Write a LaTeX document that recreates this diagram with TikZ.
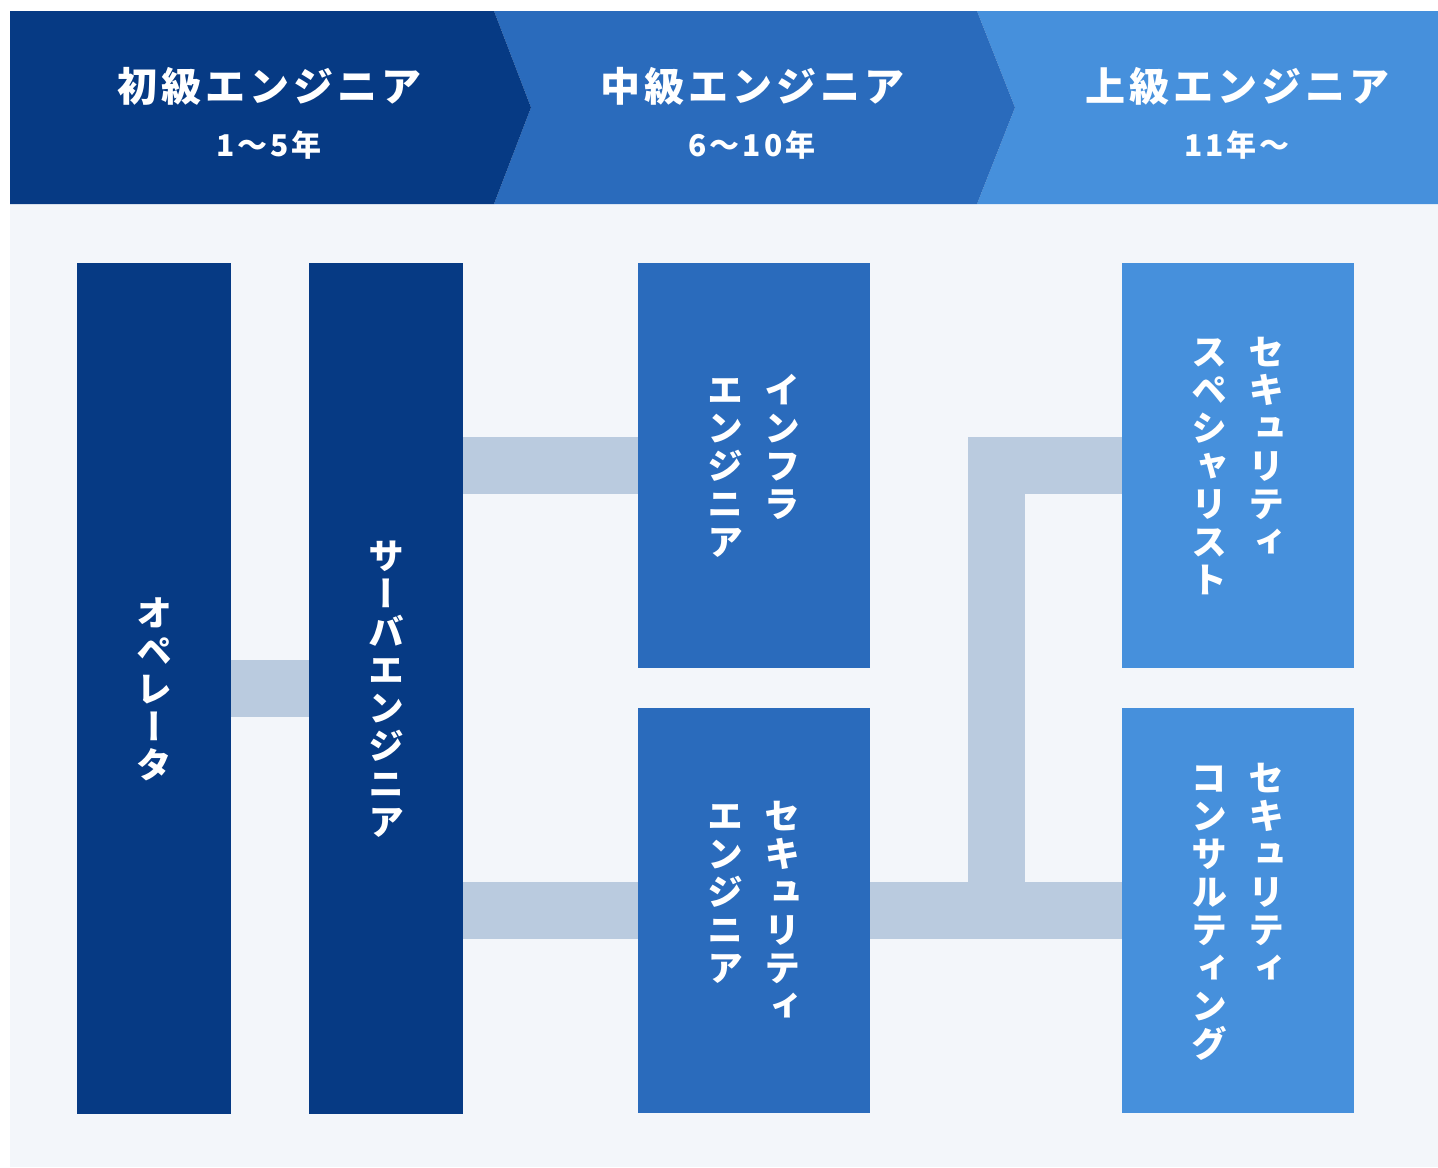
\documentclass[tikz,border=0pt]{standalone}
\usepackage{fontspec}
\usepackage{tikz}
\usepackage{xcolor}

\newfontfamily\jp{Noto Sans CJK JP}
\newfontfamily\jpv[RawFeature=+vert]{Noto Sans CJK JP} % vertical forms

\definecolor{navy}{RGB}{6,58,132}
\definecolor{midblue}{RGB}{42,107,188}
\definecolor{skyblue}{RGB}{70,144,220}
\definecolor{paper}{RGB}{243,246,250}
\definecolor{linkgrey}{RGB}{186,203,223}

% one column of vertical text, one character per row
\makeatletter
\newcommand\tatecol[1]{\vtop{\offinterlineskip
  \@tfor\tate@c:=#1\do{\hbox to 19pt{\hss\vrule width0pt height16.5pt depth2.5pt\tate@c\hss}}}}
\makeatother
% two columns, the first one on the right
\newcommand\tatetwo[2]{\hbox{\tatecol{#2}\hskip9.5pt\tatecol{#1}}}

\begin{document}
\begin{tikzpicture}[x=0.5pt, y=-0.5pt,
    head/.style={text=white, inner sep=0pt, font=\jp\bfseries\fontsize{20}{24}\selectfont\addfontfeature{LetterSpace=10}},
    years/.style={text=white, inner sep=0pt, font=\jp\bfseries\fontsize{15}{18}\selectfont\addfontfeature{LetterSpace=10}},
    role/.style={rectangle, text=white, inner sep=0pt, font=\jpv\bfseries\fontsize{18}{19}\selectfont},
    tallbox/.style={role, minimum width=77pt, minimum height=425.5pt},
    widebox/.style={role, minimum width=116pt, minimum height=202.5pt},
    link/.style={linkgrey, line width=28.5pt}
]
\useasboundingbox[fill=white] (0,0) rectangle (1438,1167);
\fill[paper] (10,204) rectangle (1438,1167);

% header arrows
\fill[skyblue] (977,11) -- (1438,11) -- (1438,204) -- (977,204) -- (1015,107.5) -- cycle;
\fill[midblue] (494,11) -- (977,11) -- (1015,107.5) -- (977,204) -- (494,204) -- (531,107.5) -- cycle;
\fill[navy] (10,11) -- (494,11) -- (531,107.5) -- (494,204) -- (10,204) -- cycle;

\node[head] (lv1) at (269,86) {初級エンジニア};
\node[years] (yr1) at (269,145) {1〜5年};
\node[head] (lv2) at (752,86) {中級エンジニア};
\node[years] (yr2) at (752,145) {6〜10年};
\node[head] (lv3) at (1237,86) {上級エンジニア};
\node[years] (yr3) at (1237,145) {11年〜};

% roles
\node[tallbox, fill=navy] (op) at (154,688.5) {\tatecol{オペレータ}};
\node[tallbox, fill=navy] (srv) at (386,688.5) {\tatecol{サーバエンジニア}};
\node[widebox, fill=midblue] (infra) at (754,465.5) {\tatetwo{インフラ}{エンジニア}};
\node[widebox, fill=midblue] (sece) at (754,910.5) {\tatetwo{セキュリティ}{エンジニア}};
\node[widebox, fill=skyblue] (spec) at (1238,465.5) {\tatetwo{セキュリティ}{スペシャリスト}};
\node[widebox, fill=skyblue] (cons) at (1238,910.5) {\tatetwo{セキュリティ}{コンサルティング}};

% links
\coordinate (jn) at (996.5,911.5);
\draw[link] (op.east) -- (srv.west);
\draw[link] (srv.east |- infra.west) -- (infra.west);
\draw[link] (srv.east |- sece.west) -- (sece.west);
\draw[link] (sece.east) -- (cons.west);
\draw[link] (jn) |- (spec.west);
\end{tikzpicture}
\end{document}
